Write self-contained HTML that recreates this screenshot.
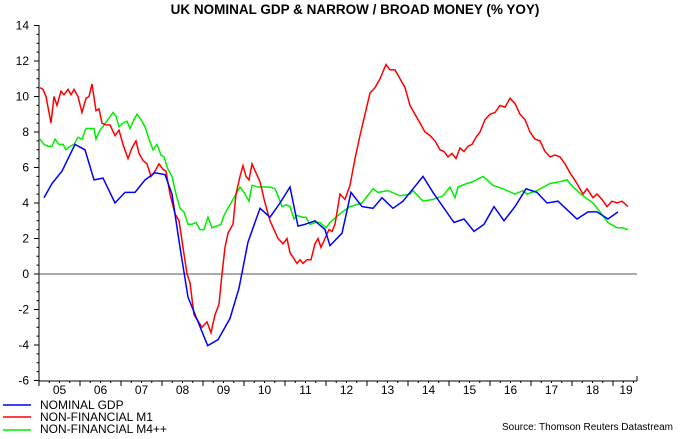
<!DOCTYPE html><html><head><style>body{margin:0;background:#fff}svg{font-family:"Liberation Sans",sans-serif}</style></head><body>
<svg id="s" width="680" height="434" xmlns="http://www.w3.org/2000/svg">
<text x="355" y="14" text-anchor="middle" font-size="13.5" font-weight="bold">UK NOMINAL GDP &amp; NARROW / BROAD MONEY (% YOY)</text>
<g id="ax" stroke="#000" stroke-width="1"></g>
<g id="lab" font-size="12" fill="#000"></g>
<line x1="39" y1="274" x2="637" y2="274" stroke="#555" stroke-width="1"/>
<polyline id="g" fill="none" stroke="#00ee00" stroke-width="1.5"/>
<polyline id="r" fill="none" stroke="#ff0000" stroke-width="1.5"/>
<polyline id="b" fill="none" stroke="#0000ff" stroke-width="1.5"/>
<line x1="3" y1="405" x2="31" y2="405" stroke="#0000ff" stroke-width="1.5"/>
<line x1="3" y1="417" x2="31" y2="417" stroke="#ff0000" stroke-width="1.5"/>
<line x1="3" y1="430" x2="31" y2="430" stroke="#00ee00" stroke-width="1.5"/>
<text x="40" y="409" font-size="12">NOMINAL GDP</text>
<text x="40" y="421" font-size="12">NON-FINANCIAL M1</text>
<text x="40" y="433" font-size="12">NON-FINANCIAL M4++</text>
<text x="673" y="430" font-size="10" text-anchor="end">Source: Thomson Reuters Datastream</text>
</svg>
<script>
function Y(v){return 274-17.75*v}
function P(a){var s=[];for(var i=0;i<a.length;i+=2)s.push(a[i]+","+Y(a[i+1]).toFixed(1));return s.join(" ")}
var b=[44,4.3,52,5.1,62,5.8,75,7.3,85,7.0,94,5.3,103,5.4,115,4.0,125,4.6,135,4.6,145,5.3,155,5.7,165,5.6,172,4.5,180,1.5,188,-1.3,207.7,-4.04,218,-3.7,230,-2.5,239,-0.8,248,1.8,260,3.7,270,3.2,280,4.0,290,4.9,298,2.7,305,2.8,315,3.0,325,2.5,330,1.6,342,2.3,351,4.6,362,3.8,373,3.7,382,4.3,393,3.7,403,4.1,423,5.5,433,4.6,454,2.9,464,3.1,474,2.4,484,2.8,494,3.8,504,3.0,515,3.8,526,4.8,537,4.6,547,4.0,558,4.1,577,3.1,588,3.5,597,3.5,608,3.1,618,3.5];
var r=[40,10.5,43,10.4,46,10.0,51,8.5,54,10.0,57,9.5,61,10.3,64,10.1,68,10.4,71,10.1,74,10.4,78,10.0,82,9.1,86,9.9,89,10.0,92,10.7,96,9.2,99,9.3,102,8.5,106,8.4,110,8.4,115,7.8,119,8.1,123,7.3,128,6.5,132,7.1,136,7.5,139,6.8,143,6.4,147,6.2,151,5.5,155,5.8,159,6.2,163,5.9,166,5.8,170,4.5,175,3.4,179,3.0,183,1.5,187,0,190,-0.5,194,-2.3,202,-3.0,207,-2.7,211,-3.3,215,-2.3,219,-1.7,222,0,225,1.5,228,2.3,233,2.8,236,4.5,240,5.5,243,6.1,246,5.5,249,5.3,252,6.2,256,5.7,260,5.2,265,4.0,270,3.0,274,2.5,278,2.0,283,1.7,287,2.0,290,1.2,297,0.6,300,0.8,303,0.6,307,0.8,311,0.8,315,1.7,318,2.0,321,1.5,325,2.0,329,2.5,332,2.4,335,2.8,340,4.5,345,4.2,350,5.0,355,6.5,360,7.8,365,9.0,370,10.2,375,10.5,380,11.0,386,11.8,390,11.5,395,11.5,400,11.0,405,10.5,410,9.5,415,9.0,420,8.5,425,8.0,430,7.8,435,7.5,440,7.0,444,6.9,448,6.6,452,6.8,456,6.5,460,7.1,464,6.9,468,7.2,472,7.3,476,7.7,480,8.0,485,8.7,490,9.0,495,9.1,500,9.5,505,9.4,510,9.9,515,9.6,520,9.0,525,8.7,530,8.0,535,7.6,540,7.5,545,6.9,550,6.6,555,6.7,560,6.6,565,6.2,570,5.7,577,5.1,583,4.5,587,4.8,593,4.3,597,4.5,602,4.2,607,3.8,612,4.1,617,4.0,622,4.1,628,3.8];
var g=[40,7.6,44,7.3,48,7.2,52,7.2,55,7.6,59,7.3,63,7.3,66,7.0,70,7.2,74,7.3,78,7.7,82,7.6,86,8.2,90,8.2,94,8.2,96,7.6,100,8.1,104,8.4,108,8.7,113,9.1,116,8.9,119,8.3,123,8.5,127,8.6,130,8.2,134,8.7,137,9.0,141,8.7,145,8.3,149,7.6,153,7.0,157,7.3,161,6.7,164,6.6,168,5.9,172,5.5,176,4.5,180,3.7,184,3.5,188,2.8,192,2.8,196,2.9,200,2.5,204,2.5,208,3.2,212,2.6,217,2.7,221,2.8,224,3.3,228,3.7,232,4.1,236,4.5,240,4.9,244,4.6,249,4.1,252,5.0,258,4.9,265,4.9,270,4.9,275,4.8,278,4.4,282,3.8,286,3.9,290,3.8,294,3.1,297,3.3,302,3.2,306,3.2,310,2.8,315,2.9,320,2.9,326,2.6,330,2.9,340,3.4,350,3.8,362,4.0,373,4.8,378,4.6,388,4.7,400,4.4,410,4.5,413,4.7,423,4.1,433,4.2,443,4.4,450,4.9,455,4.3,458,4.9,467,5.1,473,5.2,483,5.5,493,5.0,503,4.8,515,4.5,523,4.7,527,4.5,537,4.7,550,5.1,560,5.2,567,5.3,573,4.9,583,4.4,593,4.0,600,3.5,608,2.9,617,2.6,622,2.6,628,2.5];
document.getElementById("b").setAttribute("points",P(b));
document.getElementById("r").setAttribute("points",P(r));
document.getElementById("g").setAttribute("points",P(g));
var ax="",lab="";
ax+='<line x1="39" y1="25" x2="39" y2="381"/><line x1="39" y1="381" x2="637" y2="381"/><line x1="637" y1="381" x2="637" y2="376"/>';
for(var v=-6;v<=14;v+=0.5){var y=Y(v);var L=(v%2==0)?5:2.5;ax+='<line x1="'+(39-L)+'" y1="'+y+'" x2="39" y2="'+y+'"/>';}
for(var v=-6;v<=14;v+=2){lab+='<text x="29" y="'+(Y(v)+4)+'" text-anchor="end">'+v+'</text>';}
for(var k=0;k<=14;k++){var x=39+41*k;ax+='<line x1="'+x+'" y1="381" x2="'+x+'" y2="386"/>';
for(var q=1;q<4;q++){var xq=x+41*q/4;if(xq<637)ax+='<line x1="'+xq+'" y1="381" x2="'+xq+'" y2="383"/>';}
var cx=(k==14)?626:x+20.5;var yy=k+5;lab+='<text x="'+cx+'" y="394" text-anchor="middle">'+(yy<10?"0"+yy:yy)+'</text>';}
document.getElementById("ax").innerHTML=ax;document.getElementById("lab").innerHTML=lab;
</script>
</body></html>
